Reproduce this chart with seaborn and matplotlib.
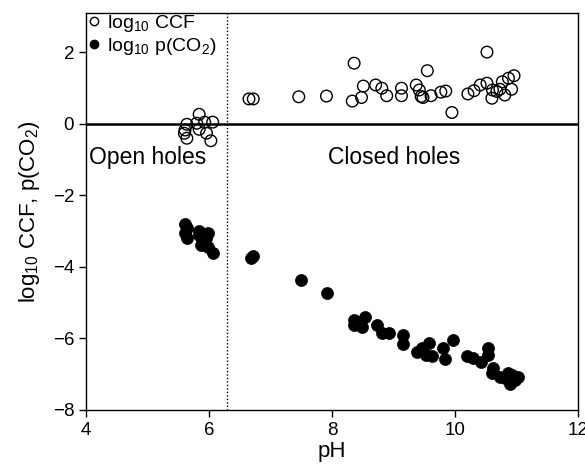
import matplotlib
matplotlib.use("Agg")
import matplotlib.pyplot as plt
import seaborn as sns
import pandas as pd
from matplotlib.lines import Line2D

# log10 CCF (open circles)
ccf_ph = [5.84, 5.64, 5.61, 5.60, 5.64, 5.80, 5.84, 5.93, 5.96, 6.03, 6.06,
          6.65, 6.72, 7.46, 7.91, 8.33, 8.36, 8.48, 8.51, 8.71, 8.81, 8.89,
          9.13, 9.13, 9.37, 9.42, 9.45, 9.48, 9.55, 9.61, 9.77, 9.85, 9.95,
          10.21, 10.31, 10.41, 10.52, 10.52, 10.61, 10.60, 10.68, 10.73,
          10.77, 10.81, 10.87, 10.92, 10.96]
ccf_val = [0.27, -0.01, -0.17, -0.26, -0.40, 0.02, -0.15, 0.05, -0.26, -0.47, 0.05,
           0.70, 0.70, 0.76, 0.78, 0.64, 1.70, 0.74, 1.06, 1.09, 1.00, 0.79,
           1.00, 0.79, 1.09, 0.95, 0.77, 0.74, 1.49, 0.79, 0.89, 0.92, 0.32,
           0.84, 0.93, 1.09, 1.14, 2.01, 0.95, 0.72, 0.91, 0.97,
           1.18, 0.81, 1.28, 0.97, 1.35]

# log10 p(CO2) (filled circles)
pco2_ph = [5.61, 5.64, 5.61, 5.65, 5.84, 5.83, 5.99, 5.88, 5.93, 5.87, 5.99, 6.07, 5.95,
           6.68, 6.71, 7.49, 7.92, 8.35, 8.35, 8.45, 8.53, 8.48, 8.73, 8.81, 8.92,
           9.15, 9.15, 9.38, 9.46, 9.57, 9.53, 9.62, 9.80, 9.84, 9.96, 10.19, 10.30,
           10.43, 10.53, 10.54, 10.62, 10.60, 10.73, 10.81, 10.89, 10.98, 10.93,
           11.02, 10.86]
pco2_val = [-2.80, -2.92, -3.04, -3.20, -2.99, -3.11, -3.06, -3.25, -3.36, -3.39, -3.44, -3.62, -3.20,
            -3.76, -3.70, -4.38, -4.74, -5.49, -5.63, -5.54, -5.40, -5.68, -5.63, -5.84, -5.86,
            -5.91, -6.16, -6.38, -6.28, -6.14, -6.47, -6.50, -6.28, -6.59, -6.05, -6.50, -6.54,
            -6.66, -6.26, -6.47, -6.84, -6.98, -7.08, -7.11, -7.28, -7.17, -7.03,
            -7.09, -6.97]

sns.set_style("ticks")
plt.rcParams['font.family'] = ['Liberation Sans', 'DejaVu Sans']
plt.rcParams['mathtext.fontset'] = 'custom'
plt.rcParams['mathtext.rm'] = 'Liberation Sans'
plt.rcParams['mathtext.default'] = 'regular'
plt.rcParams['text.color'] = 'black'
plt.rcParams['axes.labelcolor'] = 'black'
plt.rcParams['xtick.color'] = 'black'
plt.rcParams['ytick.color'] = 'black'

fig = plt.figure(figsize=(5.85, 4.7), dpi=100)
ax = fig.add_axes([0.147, 0.128, 0.841, 0.844])

df_ccf = pd.DataFrame({"pH": ccf_ph, "v": ccf_val})
df_p = pd.DataFrame({"pH": pco2_ph, "v": pco2_val})

sns.scatterplot(data=df_ccf, x="pH", y="v", ax=ax, s=70, facecolor="none",
                edgecolor="black", linewidth=1.0, zorder=3)
sns.scatterplot(data=df_p, x="pH", y="v", ax=ax, s=75, color="black",
                edgecolor="black", linewidth=0.5, zorder=3)

ax.axhline(0, color="black", lw=1.8, zorder=2)
ax.axvline(6.3, color="black", lw=1.0, ls=(0, (1, 1.5)), zorder=2)

ax.set_xlim(4, 12)
ax.set_ylim(-8, 3.1)
ax.set_xticks([4, 6, 8, 10, 12])
ax.set_yticks([-8, -6, -4, -2, 0, 2])
ax.tick_params(axis="both", labelsize=13.5, direction="out", length=5, width=1,
               color="black", labelcolor="black")
for sp in ax.spines.values():
    sp.set_visible(True)
    sp.set_color("black")
    sp.set_linewidth(1.0)

ax.set_xlabel("pH", fontsize=16, labelpad=2)
ax.set_ylabel(r"log$_{10}$ CCF, p(CO$_2$)", fontsize=16, labelpad=8)

ax.text(4.05, -0.93, "Open holes", fontsize=16.5, va="center", ha="left")
ax.text(7.93, -0.93, "Closed holes", fontsize=16.5, va="center", ha="left")

handles = [Line2D([], [], marker="o", ls="none", mfc="none", mec="black", ms=6, mew=1.0),
           Line2D([], [], marker="o", ls="none", mfc="black", mec="black", ms=6)]
ax.legend(handles, [r"log$_{10}$ CCF", r"log$_{10}$ p(CO$_2$)"], loc="upper left",
          bbox_to_anchor=(-0.008, 1.005),
          frameon=False, fontsize=14, handletextpad=0.2, handlelength=1.0,
          borderaxespad=0.0, borderpad=0.1, labelspacing=0.1)

fig.savefig("out.png", dpi=100)
